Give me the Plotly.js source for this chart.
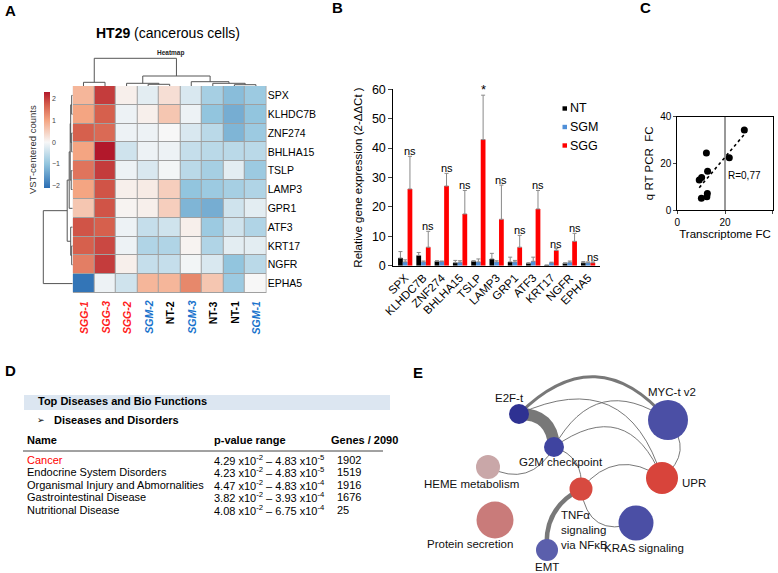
<!DOCTYPE html>
<html><head><meta charset="utf-8">
<script src="https://cdn.plot.ly/plotly-3.0.1.min.js"></script>
<style>html,body{margin:0;padding:0;background:#fff}#chart{width:778px;height:573px}</style>
</head><body><div id="chart"></div>
<script>
// ---------------- Panel A : heatmap data ----------------
const heatGenes = ['SPX','KLHDC7B','ZNF274','BHLHA15','TSLP','LAMP3','GPR1','ATF3','KRT17','NGFR','EPHA5'];
const heatSamples = ['SGG-1','SGG-3','SGG-2','SGM-2','NT-2','SGM-3','NT-3','NT-1','SGM-1'];
const heatZ = [
  [0.8, 2.0, 0.1,-0.2, 0.3,-0.3,-0.8,-1.1,-0.9],
  [1.0, 1.7,-0.1, 0.1, 0.6,-0.1,-1.0,-1.3,-1.0],
  [1.7, 1.6,-0.1,-0.1, 0.0,-0.3,-0.6,-1.2,-0.9],
  [1.0, 2.3,-0.4,-0.1,-0.1,-0.5,-0.6,-0.6,-0.6],
  [1.5, 2.0,-0.1,-0.3,-0.05,-0.6,-0.8,-0.2,-0.9],
  [1.0, 1.8, 0.1, 0.15, 0.5,-1.0,-0.9,-0.8,-0.7],
  [0.6, 1.8, 0.05, 0.1, 0.5,-1.2,-1.3,-0.4,-0.2],
  [1.8, 1.7,-0.1,-0.5,-0.4, 0.1,-0.9,-0.4,-0.7],
  [1.7, 1.9,-0.1,-0.7,-0.7, 0.05,-0.7,-0.2,-0.2],
  [1.4, 2.0, 0.1,-0.5,-0.5,-0.05,-0.3,-1.0,-0.6],
  [-2.0,-0.1,-0.4, 0.8, 0.8, 1.3, 0.6,-0.9, 0.0]
];
// dendrogram linkages: [childA, childB, height]
const colLinkage = [[3,4,0.17],[7,8,0.13],[6,10,0.27],[0,1,0.37],[2,9,0.27],[5,11,0.43],[13,14,1.0],[12,15,2.77]];
const rowLinkage = [[0,1,0.1],[2,3,0.1],[11,12,0.2],[4,5,0.15],[13,14,0.25],[15,6,0.35],[8,9,0.1],[7,17,0.2],[16,18,0.55],[19,10,2.94]];

// ---------------- Panel B : qRT-PCR data ----------------
const qGenes = ['SPX','KLHDC7B','ZNF274','BHLHA15','TSLP','LAMP3','GRP1','ATF3','KRT17','NGFR','EPHA5'];
const ntVal  = [2.6,3.5,1.5,1.0,1.5,2.3,1.3,0.8,0.2,0.8,1.0];
const ntErr  = [2.2,1.0,0.2,0.8,0.2,1.9,1.6,0.2,0.0,0.2,0.4];
const sgmVal = [1.3,1.3,1.4,1.2,1.3,1.3,1.3,1.5,1.0,1.2,1.0];
const sgmErr = [0.7,0.3,0.2,0.5,1.0,0.4,0.5,1.4,0.2,0.4,0.3];
const sggVal = [26.1,6.3,27.1,17.6,42.9,15.8,6.3,19.3,5.2,8.3,1.0];
const sggErr = [11.1,5.4,4.3,8.0,15.1,11.6,4.0,6.3,0.6,2.7,0.3];
const sigLabels = ['ns','ns','ns','ns','*','ns','ns','ns','ns','ns','ns'];
const seriesNames = ['NT','SGM','SGG'];

// ---------------- Panel C : correlation ----------------
const transcriptomeFC = [28.1,21.8,12.2,12.7,10.2,9.2,12.6,12.4,10.1];
const qpcrFC          = [34.3,22.4,24.4,16.6,13.9,12.9,7.1,5.7,5.0];
const corrLabel = 'R=0,77';

// ---------------- Panel D : table ----------------
const tableTitle = 'Top Diseases and Bio Functions';
const tableSub = 'Diseases and Disorders';
const tableHeader = ['Name','p-value range','Genes / 2090'];
const diseaseNames = ['Cancer','Endocrine System Disorders','Organismal Injury and Abmornalities','Gastrointestinal Disease','Nutritional Disease'];
const pRanges = ['4.29 x10<sup>-2</sup> – 4.83 x10<sup>-5</sup>','4.23 x10<sup>-2</sup> – 4.83 x10<sup>-5</sup>','4.47 x10<sup>-2</sup> – 4.83 x10<sup>-4</sup>','3.82 x10<sup>-2</sup> – 3.93 x10<sup>-4</sup>','4.08 x10<sup>-2</sup> – 6.75 x10<sup>-4</sup>'];
const geneCounts = [1902,1519,1916,1676,25];

// ---------------- Panel E : network ----------------
const nodeNames = ['E2F-t','G2M checkpoint','MYC-t v2','UPR','HEME metabolism','TNFα<br>signaling<br>via NFκB','Protein secretion','KRAS signaling','EMT'];
const nodeX = [519,554,668,662,488,581,495,636,547];
const nodeY = [414,447,420,478,467,489,520,523,550];
const nodeSize = [20,20,40,32,24,23,37,35,22];
const nodeColor = ['#2e3192','#3f44a0','#4b4fa5','#d8443b','#c9a7a8','#d74a40','#c97b7a','#4b4fa5','#5b5fac'];
const edgeFrom  = [0,0,0,1,1,1,1,5,5,5,2];
const edgeTo    = [1,2,3,2,3,4,5,3,7,8,3];
const edgeWidth = [12,3,1,1,1,1,1,1,1,4.5,1];
const edgeBend  = [0.48,0.54,0.57,0.55,0.63,0.48,0.4,0.46,-0.6,-0.34,0.52];

// ================= helpers =================
const W = 778, H = 573;
const PX = v => v / W, PY = v => 1 - v / H;
const FONT = 'Liberation Sans, Arial, sans-serif';
const annotations = [], shapes = [];
function ann(text, x, y, o) {
  annotations.push(Object.assign({text, x: PX(x), y: PY(y), xref:'paper', yref:'paper', showarrow:false,
    xanchor:'center', yanchor:'middle', font:{family:FONT, size:11, color:'#000'}}, o || {}));
}
function dendro(linkage, n) {
  const pos = [], h = [];
  for (let i = 0; i < n; i++) { pos.push(i); h.push(0); }
  const a = [], b = [];
  linkage.forEach(([p, q, hh]) => {
    a.push(pos[p], pos[p], pos[q], pos[q], null);
    b.push(h[p], hh, hh, h[q], null);
    pos.push((pos[p] + pos[q]) / 2); h.push(hh);
  });
  return {pos: a, h: b};
}

const traces = [];
// ----- A heatmap -----
traces.push({type:'heatmap', z: heatZ, x: heatSamples.map((_, i) => i), y: heatGenes.map((_, i) => i),
  xaxis:'x', yaxis:'y', zmin:-2.1, zmax:2.3, xgap:1, ygap:1, hoverinfo:'skip',
  colorscale:[[0,'#2a6db3'],[0.25,'#92c5de'],[0.477,'#f7f7f7'],[0.705,'#f4a582'],[0.864,'#d6604d'],[1,'#b2182b']],
  colorbar:{x:PX(44), xanchor:'left', thickness:6, len:96/H, y:PY(140), yanchor:'middle', xpad:0, ypad:0,
    outlinewidth:0, ticks:'', tickvals:[-2,-1,0,1,2], tickfont:{size:7, color:'#444', family:FONT}}});
shapes.push({type:'rect', xref:'x', yref:'y', x0:-0.5, x1:8.5, y0:-0.5, y1:10.5, fillcolor:'#a0a0a0', line:{width:0}, layer:'below'});
const cd = dendro(colLinkage, heatSamples.length);
traces.push({type:'scatter', mode:'lines', x: cd.pos, y: cd.h, xaxis:'x2', yaxis:'y2', line:{color:'#555', width:1}, hoverinfo:'skip'});
const rd = dendro(rowLinkage, heatGenes.length);
traces.push({type:'scatter', mode:'lines', x: rd.h, y: rd.pos, xaxis:'x3', yaxis:'y3', line:{color:'#555', width:1}, hoverinfo:'skip'});

heatSamples.forEach((s, i) => {
  const col = s.startsWith('SGG') ? '#ff2020' : s.startsWith('SGM') ? '#1a73cc' : '#000000';
  const txt = s.startsWith('NT') ? '<b>' + s + '</b>' : '<b><i>' + s + '</i></b>';
  annotations.push({text: txt, x: i, xref:'x', y: PY(299), yref:'paper', yanchor:'top', xanchor:'center',
    textangle:-90, showarrow:false, font:{family:FONT, size:10.5, color:col}});
});
ann('<b>HT29</b> (cancerous cells)', 168, 33, {font:{family:FONT, size:14, color:'#000000'}});
ann('<b>Heatmap</b>', 170, 53, {font:{family:FONT, size:6.5, color:'#222222'}});
ann('VST-centered counts', 33, 150, {textangle:-90, font:{family:FONT, size:9.5, color:'#333333'}});

// ----- B bars -----
const zeros = qGenes.map(() => 0);
const bColors = ['#000000','#4f8fd8','#ff0000'];
[[ntVal, ntErr],[sgmVal, sgmErr],[sggVal, sggErr]].forEach(([v, e], k) => {
  traces.push({type:'bar', name: seriesNames[k], x: qGenes, y: v, xaxis:'x4', yaxis:'y4',
    marker:{color: bColors[k], line:{width:0}}, hoverinfo:'skip',
    error_y:{type:'data', symmetric:false, array:e, arrayminus:zeros, color:'#8a8a8a', thickness:1, width:2}});
  shapes.push({type:'rect', xref:'paper', yref:'paper', x0:PX(562.5), x1:PX(567), y0:PY(108.5 + k*18.5 + 2.2), y1:PY(108.5 + k*18.5 - 2.2),
    fillcolor: bColors[k], line:{width:0}});
  ann(seriesNames[k], 568, 108.5 + k*18.5, {xanchor:'left', font:{family:FONT, size:12.5, color:'#000000'}});
});
sigLabels.forEach((s, i) => {
  annotations.push({text: s, x: i + 0.26, xref:'x4', y: sggVal[i] + sggErr[i], yref:'y4', yanchor:'bottom',
    yshift: s === '*' ? -4 : -3, showarrow:false, font:{family:FONT, size: s === '*' ? 13 : 11, color:'#000000'}});
});

// ----- C scatter -----
const n = transcriptomeFC.length;
const mx = transcriptomeFC.reduce((a, b) => a + b, 0) / n, my = qpcrFC.reduce((a, b) => a + b, 0) / n;
let sxy = 0, sxx = 0;
for (let i = 0; i < n; i++) { sxy += (transcriptomeFC[i] - mx) * (qpcrFC[i] - my); sxx += (transcriptomeFC[i] - mx) ** 2; }
const slope = sxy / sxx, icpt = my - slope * mx;
const fx = [Math.min(...transcriptomeFC), Math.max(...transcriptomeFC) + 1];
traces.push({type:'scatter', mode:'lines', x: fx, y: fx.map(v => icpt + slope * v), xaxis:'x5', yaxis:'y5',
  line:{color:'#000', width:1.6, dash:'dot'}, hoverinfo:'skip'});
traces.push({type:'scatter', mode:'markers', x: transcriptomeFC, y: qpcrFC, xaxis:'x5', yaxis:'y5',
  marker:{color:'#000', size:7}, hoverinfo:'skip'});
shapes.push({type:'line', xref:'x5', yref:'y5', x0:20, x1:20, y0:0, y1:40, line:{color:'#333', width:1}});
annotations.push({text: corrLabel, x: 20.6, xref:'x5', y: 14.6, yref:'y5', xanchor:'left', showarrow:false,
  font:{family:FONT, size:10, color:'#000000'}});

// ----- D table -----
shapes.push({type:'rect', xref:'paper', yref:'paper', x0:PX(24), x1:PX(390), y0:PY(410), y1:PY(395), fillcolor:'#dce6f1', line:{width:0}});
shapes.push({type:'line', xref:'paper', yref:'paper', x0:PX(23), x1:PX(383), y0:PY(451), y1:PY(451), line:{color:'#444', width:1}});
ann('<b>' + tableTitle + '</b>', 36, 401, {xanchor:'left', font:{family:FONT, size:11, color:'#000000'}});
ann('➢', 41, 420, {font:{family:'DejaVu Sans', size:9, color:'#000000'}});
ann('<b>' + tableSub + '</b>', 51.5, 420, {xanchor:'left', font:{family:FONT, size:11, color:'#000000'}});
const colX = [25, 212, 329];
tableHeader.forEach((h, j) => ann('<b>' + h + '</b>', colX[j], 440, {xanchor:'left', font:{family:FONT, size:11, color:'#000000'}}));
diseaseNames.forEach((d, i) => {
  const y = 460 + i * 12.4;
  ann(d, 25, y, {xanchor:'left', font:{family:FONT, size:11, color: i === 0 ? '#ff0000' : '#000000'}});
  ann(pRanges[i], 212, y, {xanchor:'left', font:{family:FONT, size:11, color:'#000000'}});
  ann(String(geneCounts[i]), 335, y, {xanchor:'left', font:{family:FONT, size:11, color:'#000000'}});
});

// ----- E network -----
edgeFrom.forEach((f, k) => {
  const t = edgeTo[k];
  const x0 = nodeX[f], y0 = nodeY[f], x1 = nodeX[t], y1 = nodeY[t];
  const dx = x1 - x0, dy = y1 - y0;
  const cx = (x0 + x1) / 2 + edgeBend[k] * dy, cy = (y0 + y1) / 2 - edgeBend[k] * dx;
  shapes.push({type:'path', xref:'x6', yref:'y6', path:`M${x0},${y0} Q${cx},${cy} ${x1},${y1}`,
    line:{color:'rgba(105,105,105,0.9)', width: edgeWidth[k]}, layer:'below'});
});
traces.push({type:'scatter', mode:'markers', x: nodeX, y: nodeY, xaxis:'x6', yaxis:'y6',
  marker:{size: nodeSize, color: nodeColor, opacity:1, line:{width:0}}, hoverinfo:'skip'});
const labOff = [[-10,-16,'center'],[7,14.5,'center'],[4,-28,'center'],[18,5,'left'],[-17,17,'center'],[-22.5,17.5,'left'],[-25,23.5,'center'],[8,24.5,'center'],[0,16.5,'center']];
nodeNames.forEach((nm, i) => {
  const o = labOff[i];
  annotations.push({text: nm, x: nodeX[i] + o[0], y: nodeY[i] + o[1], xref:'x6', yref:'y6', xanchor:o[2],
    yanchor: i === 5 ? 'top' : 'middle', align:'left', showarrow:false, font:{family:FONT, size:11.5, color:'#111111'}});
});

// ----- panel letters -----
[['A',10,10],['B',337,8],['C',645,8],['D',10,370],['E',418,372]].forEach(([l, x, y]) =>
  ann('<b>' + l + '</b>', x, y, {font:{family:FONT, size:15, color:'#000000'}}));

const hid = {visible:false, showgrid:false, zeroline:false};
const layout = {
  width: W, height: H, margin:{l:0, r:0, t:0, b:0}, paper_bgcolor:'#fff', plot_bgcolor:'rgba(0,0,0,0)',
  showlegend:false, font:{family:FONT, color:'#000'}, barmode:'group', bargap:0.22, bargroupgap:0,
  xaxis:{domain:[PX(72.7), PX(266.7)], range:[-0.5, 8.5], showticklabels:false, ticks:'', showgrid:false, zeroline:false, anchor:'y'},
  yaxis:{domain:[PY(293), PY(86)], range:[10.5, -0.5], side:'right', tickvals: heatGenes.map((_, i) => i), ticktext: heatGenes,
    ticks:'', tickfont:{size:10.5, family:FONT}, showgrid:false, zeroline:false, anchor:'x'},
  xaxis2:Object.assign({domain:[PX(72.7), PX(266.7)], range:[-0.5, 8.5], anchor:'y2'}, hid),
  yaxis2:Object.assign({domain:[PY(86), PY(55)], range:[0, 3.1], anchor:'x2'}, hid),
  xaxis3:Object.assign({domain:[PX(40), PX(72.7)], range:[3.27, 0], anchor:'y3'}, hid),
  yaxis3:Object.assign({domain:[PY(293), PY(86)], range:[10.5, -0.5], anchor:'x3'}, hid),
  xaxis4:{domain:[PX(393.3), PX(600)], type:'category', range:[-0.65, 10.65], tickangle:-45, tickfont:{size:11.5},
    showline:true, linecolor:'#000', linewidth:1, ticks:'', showgrid:false, zeroline:false, anchor:'y4'},
  yaxis4:{domain:[PY(265.7), PY(89.3)], range:[0, 60], dtick:10, showline:true, linecolor:'#000', linewidth:1,
    ticks:'outside', ticklen:4, tickfont:{size:12.5}, showgrid:false, zeroline:false, anchor:'x4',
    title:{text:'Relative gene expression (2-ΔΔCt )', font:{size:11.5}, standoff:6}},
  xaxis5:{domain:[PX(677.3), PX(772.7)], range:[0, 40], dtick:20, showline:true, mirror:true, linecolor:'#000', linewidth:1,
    ticks:'outside', ticklen:3, tickfont:{size:10}, showgrid:false, zeroline:false, anchor:'y5',
    title:{text:'Transcriptome FC', font:{size:11.5}, standoff:2}},
  yaxis5:{domain:[PY(210), PY(116.7)], range:[0, 40], dtick:20, showline:true, mirror:true, linecolor:'#000', linewidth:1,
    ticks:'outside', ticklen:3, tickfont:{size:10}, showgrid:false, zeroline:false, anchor:'x5',
    title:{text:'q RT PCR  FC', font:{size:11.5}, standoff:4}},
  xaxis6:Object.assign({domain:[PX(400), 1], range:[400, 778], anchor:'y6'}, hid),
  yaxis6:Object.assign({domain:[0, PY(370)], range:[573, 370], anchor:'x6'}, hid),
  annotations, shapes
};
Plotly.newPlot('chart', traces, layout, {displayModeBar:false, staticPlot:true});
</script></body></html>
